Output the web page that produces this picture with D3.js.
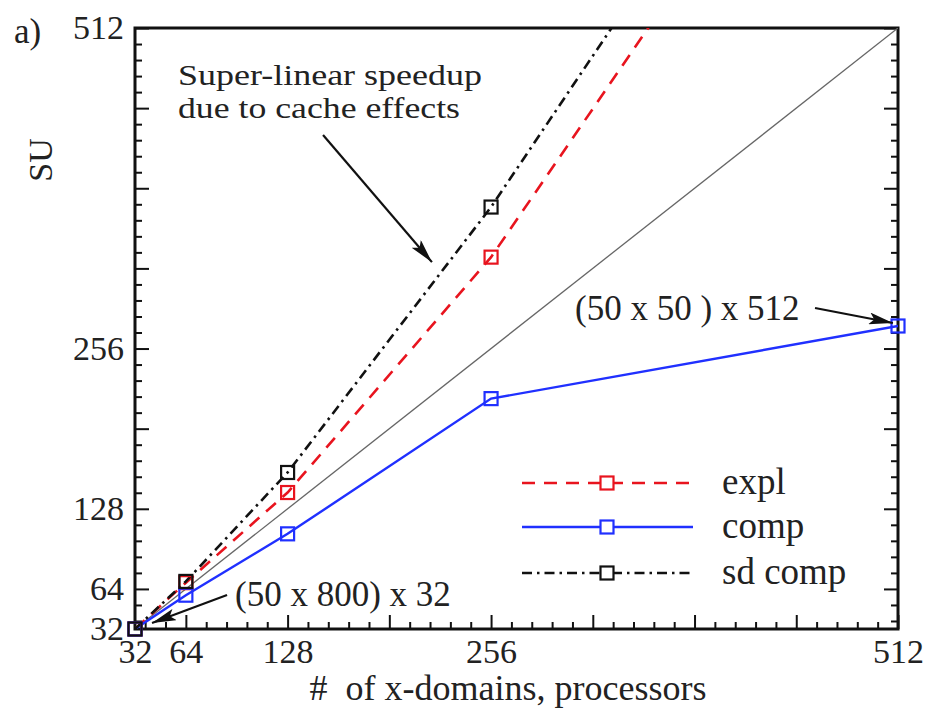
<!DOCTYPE html>
<html>
<head>
<meta charset="utf-8">
<script src="https://cdn.jsdelivr.net/npm/d3@7"></script>
<style>
  body { margin: 0; background: #fff; }
  svg { display: block; }
  text { font-family: "Liberation Serif", "DejaVu Serif", serif; fill: #222; }
</style>
</head>
<body>
<svg id="chart" width="929" height="709"></svg>
<script>
// ---- data ----
const procs   = [32, 64, 128, 256, 512];
const expl    = [32, 69, 141, 329, 803];
const comp    = [32, 59, 108, 216, 274];
const sdComp  = [32, 70, 157, 369, 852];
const ideal   = [32, 512];
const tickLabels = [32, 64, 128, 256, 512];
const majorTicks = [64, 128, 192, 256, 320, 384, 448, 512];
const legendNames = ["expl", "comp", "sd comp"];

const m = { left: 135, right: 898, top: 28, bottom: 629 };
const svg = d3.select("#chart");

const x = d3.scaleLinear().domain([32, 512]).range([m.left, m.right]);
const y = d3.scaleLinear().domain([32, 512]).range([m.bottom, m.top]);

const minorTicks = d3.range(0, 41).map(k => k * 12.8)
  .filter(v => v > 32 && v < 512 && Math.abs(v / 64 - Math.round(v / 64)) > 1e-6);

const fontTick = 34;

const defs = svg.append("defs");
defs.append("clipPath").attr("id", "clip")
  .append("rect").attr("x", m.left).attr("y", m.top)
  .attr("width", m.right - m.left).attr("height", m.bottom - m.top);

defs.append("marker")
  .attr("id", "arrow").attr("viewBox", "0 0 24 12")
  .attr("refX", 24).attr("refY", 6)
  .attr("markerUnits", "userSpaceOnUse")
  .attr("markerWidth", 24).attr("markerHeight", 12)
  .attr("orient", "auto")
  .append("path").attr("d", "M0,0 L24,6 L0,12 L5,6 Z").attr("fill", "#111");

function tickAxis(axis, g, size, values) {
  g.call(axis.tickValues(values).tickSize(size).tickFormat(""));
  g.select(".domain").remove();
  g.selectAll(".tick line").attr("stroke", "#111").attr("stroke-width", 2);
}

// bottom axis
const gb = svg.append("g").attr("transform", `translate(0,${m.bottom})`);
tickAxis(d3.axisBottom(x), gb.append("g"), -14, majorTicks);
tickAxis(d3.axisBottom(x), gb.append("g"), -7, minorTicks);
const gbl = gb.append("g").call(d3.axisBottom(x).tickValues(tickLabels).tickSize(0).tickPadding(10));
gbl.select(".domain").remove();
gbl.selectAll("text").attr("font-size", fontTick).attr("font-family", "Liberation Serif").attr("fill", "#222");

// left axis
const gl = svg.append("g").attr("transform", `translate(${m.left},0)`);
tickAxis(d3.axisLeft(y), gl.append("g"), -14, majorTicks);
tickAxis(d3.axisLeft(y), gl.append("g"), -7, minorTicks);
const gll = gl.append("g").call(d3.axisLeft(y).tickValues(tickLabels).tickSize(0).tickPadding(11));
gll.select(".domain").remove();
gll.selectAll("text").attr("font-size", fontTick).attr("font-family", "Liberation Serif").attr("fill", "#222");

// right axis ticks
const gr = svg.append("g").attr("transform", `translate(${m.right},0)`);
tickAxis(d3.axisRight(y), gr.append("g"), -14, majorTicks);
tickAxis(d3.axisRight(y), gr.append("g"), -7, minorTicks);

// frame
svg.append("rect").attr("x", m.left).attr("y", m.top)
  .attr("width", m.right - m.left).attr("height", m.bottom - m.top)
  .attr("fill", "none").attr("stroke", "#111").attr("stroke-width", 3);

// axis titles
svg.append("text").attr("x", 508).attr("y", 700).attr("text-anchor", "middle")
  .attr("font-size", 36).attr("xml:space", "preserve").style("white-space", "pre")
  .text("#  of x-domains, processors");
svg.append("text").attr("transform", "translate(52,160) rotate(-90)")
  .attr("text-anchor", "middle").attr("font-size", 34).text("SU");
svg.append("text").attr("x", 14).attr("y", 43).attr("font-size", 35).text("a)");

// series
const plot = svg.append("g").attr("clip-path", "url(#clip)");
const line = d3.line().x(d => x(d[0])).y(d => y(d[1]));

plot.append("path").datum(ideal.map(v => [v, v])).attr("d", line)
  .attr("fill", "none").attr("stroke", "#666").attr("stroke-width", 1.3);

const series = [
  { name: "expl", vals: expl, color: "#e8141e", dash: "13,9", width: 2.6 },
  { name: "comp", vals: comp, color: "#2030ff", dash: null, width: 2.4 },
  { name: "sd comp", vals: sdComp, color: "#111", dash: "10,5,2.5,5", width: 2.6 }
];
const ms = 13;
series.forEach(s => {
  const pts = procs.map((p, i) => [p, s.vals[i]]);
  plot.append("path").datum(pts).attr("d", line)
    .attr("fill", "none").attr("stroke", s.color).attr("stroke-width", s.width)
    .attr("stroke-dasharray", s.dash);
});
series.forEach(s => {
  const pts = procs.map((p, i) => [p, s.vals[i]]).filter(d => d[1] <= 512);
  svg.append("g").selectAll("rect").data(pts).enter().append("rect")
    .attr("x", d => x(d[0]) - ms / 2).attr("y", d => y(d[1]) - ms / 2)
    .attr("width", ms).attr("height", ms)
    .attr("fill", "none").attr("stroke", s.color).attr("stroke-width", 2.2);
});

// legend
const lg = svg.append("g");
const legY = [483, 527, 573];
series.forEach((s, i) => {
  const yy = legY[i];
  lg.append("line").attr("x1", 522).attr("x2", 693).attr("y1", yy).attr("y2", yy)
    .attr("stroke", s.color).attr("stroke-width", s.width).attr("stroke-dasharray", s.dash);
  lg.append("rect").attr("x", 607 - ms / 2).attr("y", yy - ms / 2).attr("width", ms).attr("height", ms)
    .attr("fill", "#fff").attr("stroke", s.color).attr("stroke-width", 2.2);
  lg.append("text").attr("x", 722).attr("y", yy + 11).attr("font-size", 37).text(legendNames[i]);
});

// annotations (in data units)
const ann = [
  { from: [150.3, 426.5], to: [218.8, 325] },
  { from: [89.9, 59.2], to: [42.7, 36.8] },
  { from: [459.8, 288.4], to: [508.8, 276.4] }
];
ann.forEach(a => {
  svg.append("line").attr("x1", x(a.from[0])).attr("y1", y(a.from[1]))
    .attr("x2", x(a.to[0])).attr("y2", y(a.to[1]))
    .attr("stroke", "#111").attr("stroke-width", 2.2).attr("marker-end", "url(#arrow)");
});
svg.append("text").attr("x", 178).attr("y", 85).attr("font-size", 29.5)
  .attr("textLength", 304).attr("lengthAdjust", "spacingAndGlyphs").text("Super-linear speedup");
svg.append("text").attr("x", 178).attr("y", 118).attr("font-size", 29.5)
  .attr("textLength", 282).attr("lengthAdjust", "spacingAndGlyphs").text("due to cache effects");
svg.append("text").attr("x", 575).attr("y", 320).attr("font-size", 35).attr("xml:space", "preserve")
  .style("white-space", "pre").text("(50 x 50 ) x 512");
svg.append("text").attr("x", 235).attr("y", 606).attr("font-size", 35).text("(50 x 800) x 32");
</script>
</body>
</html>
